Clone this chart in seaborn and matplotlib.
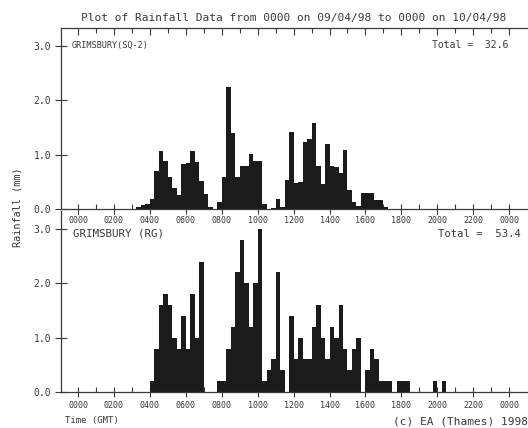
import numpy as np
import pandas as pd
import matplotlib
matplotlib.use('Agg')
import matplotlib.pyplot as plt
import seaborn as sns

# 15-minute rainfall totals (mm)
sq2_first_bin = 13   # 03:15
sq2_mm = [0.04, 0.07, 0.10, 0.18, 0.69, 1.07, 0.89, 0.58, 0.38, 0.26,
          0.83, 0.85, 1.07, 0.87, 0.52, 0.28, 0.04, 0.00, 0.13, 0.58,
          2.24, 1.40, 0.58, 0.79, 0.79, 1.01, 0.89, 0.89, 0.10, 0.00,
          0.02, 0.18, 0.03, 0.53, 1.42, 0.48, 0.50, 1.24, 1.29, 1.59,
          0.79, 0.46, 1.19, 0.79, 0.77, 0.67, 1.08, 0.35, 0.12, 0.05,
          0.29, 0.29, 0.29, 0.17, 0.17, 0.04]

rg_first_bin = 16    # 04:00
rg_mm = [0.2, 0.8, 1.6, 1.8, 1.6, 1.0, 0.8, 1.4, 0.8, 1.8, 1.0, 2.4,
         0.0, 0.0, 0.0, 0.2, 0.2, 0.8, 1.2, 2.2, 2.8, 2.0, 1.2, 2.0,
         3.0, 0.2, 0.4, 0.6, 2.2, 0.4, 0.0, 1.4, 0.6, 1.0, 0.6, 0.6,
         1.2, 1.6, 1.0, 0.6, 1.2, 1.0, 1.6, 0.8, 0.4, 0.8, 1.0, 0.0,
         0.4, 0.8, 0.6, 0.2, 0.2, 0.2, 0.0, 0.2, 0.2, 0.2, 0.0, 0.0,
         0.0, 0.0, 0.0, 0.2, 0.0, 0.2]

hour_ticks = list(range(0, 25, 2))
hour_labels = ['0000', '0200', '0400', '0600', '0800', '1000', '1200',
               '1400', '1600', '1800', '2000', '2200', '0000']
rain_ticks = [0, 1, 2, 3]
rain_labels = ['0.0', '1.0', '2.0', '3.0']

gauges = [('GRIMSBURY(SQ-2)', 'Total =  32.6', sq2_first_bin, sq2_mm),
          ('GRIMSBURY (RG)', 'Total =  53.4', rg_first_bin, rg_mm)]

sns.set_style('ticks')
plt.rcParams['font.family'] = ['DejaVu Sans Mono', 'DejaVu Sans']

W, H = 528, 428
fig = plt.figure(figsize=(W / 100, H / 100), dpi=100)
fig.patch.set_facecolor('white')

def fx(x):
    return x / W

def fy(y):
    return 1 - y / H

ink = '#1b1b1b'
txt = '#3a3a3a'

ax_top = fig.add_axes([fx(61), fy(209), fx(467), 181 / H])
ax_bot = fig.add_axes([fx(61), fy(392), fx(467), 181 / H])
ax_top.set_zorder(2)

for i, (ax, (name, total, first, mm)) in enumerate(zip([ax_top, ax_bot], gauges)):
    df = pd.DataFrame({'hour': [(first + k) * 0.25 + 0.125 for k in range(len(mm))],
                       'mm': mm})
    sns.histplot(data=df, x='hour', weights='mm', binwidth=0.25, binrange=(0, 24),
                 ax=ax, color=ink, alpha=1, linewidth=0, element='bars')
    ax.set_facecolor('none')
    ax.set_xlim(-0.95, 25.05)
    ax.set_ylim(0, 3.33)
    ax.set_xlabel('')
    ax.set_ylabel('')
    ax.set_yticks(rain_ticks)
    ax.set_yticklabels(rain_labels)
    ax.set_xticks(hour_ticks)
    ax.set_xticklabels(hour_labels)
    ax.set_xticks(list(range(1, 24, 2)), minor=True)
    ax.spines['right'].set_visible(False)
    ax.spines['top'].set_visible(False)
    ax.spines['left'].set_color(txt)
    ax.spines['left'].set_linewidth(0.9)
    ax.spines['bottom'].set_color(txt)
    ax.spines['bottom'].set_linewidth(0.9)
    ax.spines['bottom'].set_linestyle((0, (1, 1)))
    ax.tick_params(axis='y', direction='inout', length=9, width=0.8,
                   colors=txt, labelsize=7, pad=2.5)
    ax.tick_params(axis='x', which='major', direction='inout', length=7,
                   width=0.8, colors=txt, labelsize=6,
                   pad=1.8 if i == 0 else 3.2)
    ax.tick_params(axis='x', which='minor', direction='in', length=3.5,
                   width=0.8, colors=txt)

# top edge of the upper panel with inward ticks every hour
sec = ax_top.secondary_xaxis('top')
sec.set_xticks(hour_ticks)
sec.set_xticks(list(range(1, 24, 2)), minor=True)
sec.set_xticklabels([])
sec.spines['top'].set_color(txt)
sec.spines['top'].set_linewidth(0.9)
sec.spines['top'].set_linestyle((0, (1, 1)))
sec.tick_params(which='major', direction='in', length=5, width=0.8, colors=txt)
sec.tick_params(which='minor', direction='in', length=3.5, width=0.8, colors=txt)

# text
fig.text(fx(294), fy(17.5), 'Plot of Rainfall Data from 0000 on 09/04/98 to 0000 on 10/04/98',
         ha='center', va='center', fontsize=8, color=txt)
fig.text(fx(72), fy(45), gauges[0][0], ha='left', va='center', fontsize=6.1, color=txt)
fig.text(fx(508), fy(45), gauges[0][1], ha='right', va='center', fontsize=7, color=txt)
fig.text(fx(73), fy(234), gauges[1][0], ha='left', va='center', fontsize=7.8, color=txt)
fig.text(fx(521), fy(234), gauges[1][1], ha='right', va='center', fontsize=7.6, color=txt)
fig.text(fx(18), fy(207), 'Rainfall (mm)', rotation=90, ha='center', va='center',
         fontsize=7.3, color=txt)
fig.text(fx(65), fy(421), 'Time (GMT)', ha='left', va='center', fontsize=6.5, color=txt)
fig.text(fx(393), fy(421), '(c) EA (Thames) 1998', ha='left', va='center',
         fontsize=8, color=txt)

fig.savefig('out.png', dpi=100, facecolor='white')
